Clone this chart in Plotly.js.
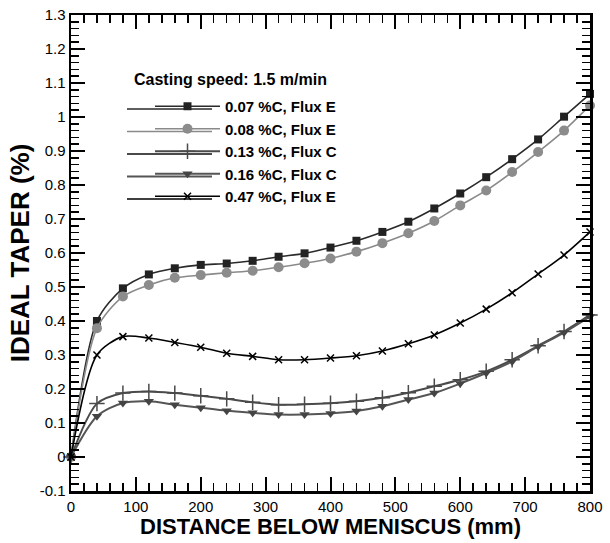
<!DOCTYPE html>
<html>
<head>
<meta charset="utf-8">
<script src="https://cdn.plot.ly/plotly-3.0.1.min.js"></script>
<style>html,body{margin:0;padding:0;background:#fff}#chart{width:610px;height:543px}</style>
</head>
<body>
<div id="chart"></div>
<script>
// Distance below meniscus (mm)
var distance = [0, 40, 80, 120, 160, 200, 240, 280, 320, 360, 400, 440, 480, 520, 560, 600, 640, 680, 720, 760, 800];
// Ideal taper (%)
var taper007E = [0, 0.400, 0.496, 0.537, 0.555, 0.565, 0.569, 0.577, 0.589, 0.599, 0.616, 0.636, 0.662, 0.692, 0.731, 0.775, 0.823, 0.876, 0.934, 1.001, 1.068];
var taper008E = [0, 0.379, 0.472, 0.506, 0.527, 0.535, 0.542, 0.548, 0.558, 0.570, 0.584, 0.604, 0.629, 0.658, 0.694, 0.740, 0.784, 0.838, 0.897, 0.960, 1.034];
var taper013C = [0, 0.157, 0.188, 0.193, 0.188, 0.180, 0.171, 0.161, 0.154, 0.155, 0.158, 0.164, 0.174, 0.189, 0.208, 0.227, 0.252, 0.286, 0.327, 0.369, 0.418];
var taper016C = [0, 0.120, 0.159, 0.164, 0.154, 0.145, 0.136, 0.130, 0.125, 0.125, 0.128, 0.135, 0.149, 0.169, 0.188, 0.216, 0.247, 0.281, 0.325, 0.366, 0.413];
var taper047E = [0, 0.300, 0.354, 0.350, 0.337, 0.323, 0.305, 0.296, 0.286, 0.286, 0.291, 0.298, 0.312, 0.333, 0.359, 0.394, 0.435, 0.483, 0.538, 0.594, 0.662];
var seriesNames = ['0.07 %C, Flux E', '0.08 %C, Flux E', '0.13 %C, Flux C', '0.16 %C, Flux C', '0.47 %C, Flux E'];
var yTickVals = [-0.1, 0, 0.1, 0.2, 0.3, 0.4, 0.5, 0.6, 0.7, 0.8, 0.9, 1, 1.1, 1.2, 1.3];
var yTickLabels = ['-0.1', '0', '0.1', '0.2', '0.3', '0.4', '0.5', '0.6', '0.7', '0.8', '0.9', '1', '1.1', '1.2', '1.3'];
var legendTitle = 'Casting speed: 1.5 m/min';
var xTitle = 'DISTANCE BELOW MENISCUS (mm)';
var yTitle = 'IDEAL TAPER (%)';

var FONT = 'Liberation Sans, Arial, sans-serif';
var styles = [
  {lc: '#2a2a2a', lw: 1.6, sym: 'square', mc: '#222', ms: 8, mlw: 0},
  {lc: '#8a8a8a', lw: 1.6, sym: 'circle', mc: '#8c8c8c', ms: 10, mlw: 0},
  {lc: '#4a4a4a', lw: 2, sym: 'cross-thin', mc: '#4a4a4a', ms: 11, mlw: 1.5},
  {lc: '#555', lw: 2, sym: 'triangle-down', mc: '#444', ms: 9, mlw: 0},
  {lc: '#000', lw: 1.6, sym: 'x-thin', mc: '#000', ms: 7, mlw: 1.5}
];
var series = [taper007E, taper008E, taper013C, taper016C, taper047E];
var data = series.map(function (y, i) {
  var s = styles[i];
  return {
    x: distance, y: y, name: seriesNames[i], type: 'scatter', mode: 'lines+markers',
    line: {color: s.lc, width: s.lw, shape: 'spline', smoothing: 0.8},
    marker: {symbol: s.sym, color: s.mc, size: s.ms, line: {color: s.mc, width: s.mlw}},
    cliponaxis: false
  };
});

// plot-area geometry (px) used to place legend decorations in paper coords
var PL = 71, PW = 519, PT = 15, PH = 476;
function px2x(p) { return (p - PL) / PW; }
function px2y(p) { return 1 - (p - PT) / PH; }
var LEG_TOP = 90, ROW0 = 109, ROW_GAP = 22.5;
var shapes = styles.map(function (s, i) {
  var py = ROW0 + i * ROW_GAP;
  return {type: 'line', xref: 'paper', yref: 'paper', x0: px2x(127), x1: px2x(212), y0: px2y(py), y1: px2y(py),
          line: {color: s.lc, width: s.lw}, layer: 'above'};
});

var axisCommon = {
  showline: true, linecolor: '#000', linewidth: 2.5, mirror: 'allticks',
  ticks: 'inside', ticklen: 14, tickwidth: 2, tickcolor: '#000',
  showgrid: false, zeroline: false,
  tickfont: {family: FONT, size: 15, color: '#000'}
};
var layout = {
  width: 610, height: 543,
  margin: {l: 71, r: 20, t: 15, b: 52},
  paper_bgcolor: '#fff', plot_bgcolor: '#fff',
  showlegend: true,
  shapes: shapes,
  annotations: [{
    text: legendTitle, xref: 'paper', yref: 'paper', x: px2x(132), y: px2y(80),
    xanchor: 'left', yanchor: 'middle', showarrow: false,
    font: {family: FONT, size: 16, color: '#000', weight: 'bold'}
  }],
  xaxis: Object.assign({}, axisCommon, {
    range: [0, 800], dtick: 100, tick0: 0,
    minor: {ticks: 'inside', dtick: 20, ticklen: 8, tickwidth: 1.5, tickcolor: '#000'},
    title: {text: xTitle, font: {family: FONT, size: 22, color: '#000', weight: 'bold'}, standoff: 4}
  }),
  yaxis: Object.assign({}, axisCommon, {
    range: [-0.1, 1.3], tickmode: 'array', tickvals: yTickVals, ticktext: yTickLabels,
    minor: {ticks: 'inside', tickmode: 'linear', tick0: 0, dtick: 0.02, ticklen: 8, tickwidth: 1.5, tickcolor: '#000'},
    title: {text: yTitle, font: {family: FONT, size: 26, color: '#000', weight: 'bold'}, standoff: 3}
  }),
  legend: {
    x: px2x(150), y: px2y(LEG_TOP), xanchor: 'left', yanchor: 'top',
    bgcolor: 'rgba(0,0,0,0)', borderwidth: 0,
    font: {family: FONT, size: 15, color: '#000', weight: 'bold'},
    itemwidth: 65, tracegroupgap: 0
  }
};
Plotly.newPlot('chart', data, layout, {displayModeBar: false, staticPlot: true});
</script>
</body>
</html>
